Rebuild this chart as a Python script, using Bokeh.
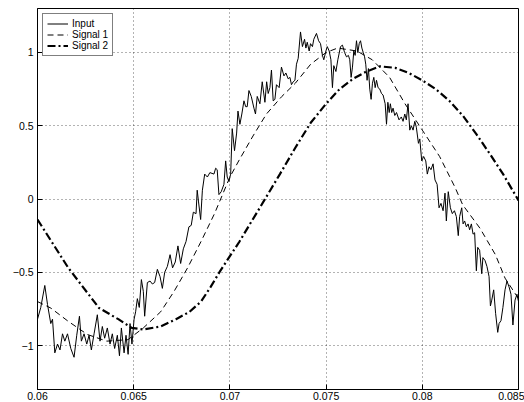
from bokeh.plotting import figure
from bokeh.models import FixedTicker, Range1d, Legend, LegendItem
from bokeh.embed import file_html
from bokeh.resources import INLINE

# ---- data ----
input_t = [
    0.06000, 0.06017, 0.06038, 0.06052, 0.06069, 0.06078, 0.06090, 0.06104, 0.06117, 0.06130,
    0.06142, 0.06156, 0.06173, 0.06190, 0.06204, 0.06218, 0.06228, 0.06242, 0.06256, 0.06268,
    0.06280, 0.06294, 0.06311, 0.06325, 0.06337, 0.06349, 0.06363, 0.06377, 0.06389, 0.06401,
    0.06415, 0.06426, 0.06436, 0.06450, 0.06460, 0.06471, 0.06481, 0.06491, 0.06502, 0.06510,
    0.06519, 0.06529, 0.06540, 0.06550, 0.06557, 0.06571, 0.06585, 0.06597, 0.06609, 0.06623,
    0.06637, 0.06649, 0.06661, 0.06675, 0.06689, 0.06702, 0.06716, 0.06730, 0.06744, 0.06758,
    0.06772, 0.06787, 0.06799, 0.06810, 0.06824, 0.06830, 0.06837, 0.06848, 0.06857, 0.06869,
    0.06883, 0.06896, 0.06917, 0.06926, 0.06934, 0.06943, 0.06955, 0.06969, 0.06978, 0.06986,
    0.06995, 0.07004, 0.07012, 0.07024, 0.07035, 0.07042, 0.07052, 0.07062, 0.07073, 0.07082,
    0.07090, 0.07099, 0.07111, 0.07125, 0.07133, 0.07142, 0.07156, 0.07168, 0.07182, 0.07191,
    0.07199, 0.07208, 0.07216, 0.07225, 0.07234, 0.07242, 0.07256, 0.07268, 0.07281, 0.07291,
    0.07303, 0.07312, 0.07320, 0.07329, 0.07338, 0.07346, 0.07355, 0.07367, 0.07377, 0.07388,
    0.07395, 0.07402, 0.07412, 0.07419, 0.07429, 0.07436, 0.07450, 0.07461, 0.07471, 0.07481,
    0.07488, 0.07499, 0.07506, 0.07516, 0.07525, 0.07533, 0.07540, 0.07551, 0.07561, 0.07575,
    0.07585, 0.07596, 0.07606, 0.07616, 0.07623, 0.07630, 0.07637, 0.07644, 0.07651, 0.07658,
    0.07665, 0.07672, 0.07679, 0.07686, 0.07693, 0.07700, 0.07706, 0.07713, 0.07720, 0.07727,
    0.07734, 0.07741, 0.07748, 0.07755, 0.07762, 0.07770, 0.07779, 0.07788, 0.07796, 0.07807,
    0.07814, 0.07821, 0.07828, 0.07834, 0.07841, 0.07848, 0.07857, 0.07866, 0.07879, 0.07891,
    0.07900, 0.07909, 0.07917, 0.07926, 0.07935, 0.07943, 0.07952, 0.07961, 0.07969, 0.07980,
    0.07987, 0.07997, 0.08007, 0.08018, 0.08026, 0.08035, 0.08045, 0.08056, 0.08066, 0.08077,
    0.08087, 0.08097, 0.08108, 0.08118, 0.08125, 0.08135, 0.08146, 0.08156, 0.08167, 0.08177,
    0.08187, 0.08194, 0.08205, 0.08212, 0.08220, 0.08229, 0.08238, 0.08246, 0.08255, 0.08264,
    0.08272, 0.08281, 0.08288, 0.08298, 0.08309, 0.08315, 0.08326, 0.08336, 0.08347, 0.08354,
    0.08361, 0.08371, 0.08381, 0.08392, 0.08399, 0.08409, 0.08419, 0.08430, 0.08440, 0.08451,
    0.08461, 0.08471, 0.08482, 0.08492, 0.08500,
]
input_v = [
    -0.82, -0.74, -0.59, -0.72, -0.85, -0.82, -1.05, -0.99, -1.03, -0.92,
    -0.97, -0.92, -1.02, -1.08, -0.93, -0.80, -0.97, -0.92, -0.99, -0.93,
    -1.03, -0.92, -0.79, -0.97, -0.87, -0.95, -0.88, -0.99, -0.92, -1.02,
    -0.93, -1.07, -0.88, -1.05, -0.93, -1.06, -0.85, -0.99, -0.82, -0.77,
    -0.68, -0.74, -0.55, -0.63, -0.80, -0.57, -0.56, -0.58, -0.57, -0.48,
    -0.53, -0.61, -0.50, -0.46, -0.38, -0.47, -0.43, -0.32, -0.44, -0.34,
    -0.29, -0.19, -0.18, -0.09, -0.10, 0.06, -0.02, -0.14, 0.06, 0.17,
    0.15, 0.18, 0.17, 0.21, 0.20, 0.03, 0.05, 0.10, 0.26, 0.15,
    0.12, 0.17, 0.48, 0.33, 0.45, 0.60, 0.51, 0.58, 0.67, 0.63,
    0.63, 0.74, 0.70, 0.62, 0.58, 0.70, 0.65, 0.80, 0.66, 0.80,
    0.72, 0.76, 0.88, 0.67, 0.68, 0.78, 0.76, 0.90, 0.84, 0.86,
    0.82, 0.83, 0.78, 0.80, 0.81, 0.92, 0.96, 1.14, 1.04, 1.09,
    1.03, 1.07, 1.01, 1.06, 1.04, 1.09, 1.13, 1.08, 1.06, 0.98,
    0.95, 1.01, 1.04, 1.01, 0.95, 0.76, 0.91, 0.87, 0.95, 1.04,
    1.05, 1.00, 0.97, 0.98, 0.95, 0.83, 0.90, 1.01, 0.98, 1.08,
    1.00, 1.06, 1.08, 1.03, 1.00, 0.97, 0.92, 0.81, 0.89, 0.75,
    0.68, 0.79, 0.83, 0.76, 0.81, 0.76, 0.75, 0.72, 0.71, 0.65,
    0.51, 0.66, 0.59, 0.65, 0.59, 0.62, 0.57, 0.59, 0.54, 0.56,
    0.53, 0.58, 0.54, 0.65, 0.47, 0.50, 0.47, 0.53, 0.49, 0.38,
    0.41, 0.26, 0.29, 0.26, 0.17, 0.22, 0.20, 0.24, 0.13, 0.10,
    -0.06, -0.03, -0.08, 0.04, -0.15, 0.05, -0.06, -0.10, -0.08, -0.12,
    -0.25, -0.12, -0.06, -0.17, -0.15, -0.19, -0.17, -0.21, -0.17, -0.24,
    -0.23, -0.49, -0.33, -0.35, -0.51, -0.40, -0.42, -0.46, -0.53, -0.73,
    -0.69, -0.62, -0.78, -0.91, -0.85, -0.83, -0.74, -0.62, -0.56, -0.60,
    -0.65, -0.86, -0.69, -0.65, -0.70,
]

sig1_t = [0.0600, 0.0607, 0.0616, 0.0626, 0.0636, 0.0647, 0.0655, 0.0664, 0.0671, 0.0678,
          0.0685, 0.0692, 0.0700, 0.0705, 0.0712, 0.0719, 0.0727, 0.0734, 0.0742, 0.0750,
          0.0756, 0.0766, 0.0774, 0.0783, 0.0791, 0.0800, 0.0809, 0.0817, 0.0821, 0.0830,
          0.0838, 0.0843, 0.0850]
sig1_v = [-0.70, -0.745, -0.835, -0.925, -0.97, -0.96, -0.88, -0.77, -0.63, -0.47,
          -0.29, -0.10, 0.15, 0.27, 0.43, 0.58, 0.70, 0.79, 0.92, 1.00,
          1.03, 1.01, 0.95, 0.83, 0.65, 0.47, 0.29, 0.08, -0.04, -0.20,
          -0.38, -0.54, -0.68]

sig2_t = [0.0600, 0.0616, 0.0632, 0.0642, 0.0649, 0.0655, 0.0664, 0.0672, 0.0679, 0.0685,
          0.0690, 0.0695, 0.0700, 0.0705, 0.0710, 0.0716, 0.0721, 0.0726, 0.0734, 0.0742,
          0.0750, 0.0757, 0.0764, 0.0771, 0.0778, 0.0786, 0.0793, 0.0800, 0.0807, 0.0814,
          0.0821, 0.0828, 0.0835, 0.0842, 0.0850]
sig2_v = [-0.14, -0.47, -0.744, -0.82, -0.88, -0.89, -0.87, -0.82, -0.77, -0.70,
          -0.60, -0.49, -0.39, -0.29, -0.18, -0.05, 0.06, 0.17, 0.35, 0.52,
          0.65, 0.75, 0.82, 0.87, 0.905, 0.895, 0.86, 0.81, 0.75, 0.67,
          0.57, 0.445, 0.31, 0.17, -0.01]

x_ticks = [0.06, 0.065, 0.07, 0.075, 0.08, 0.085]
x_labels = ["0.06", "0.065", "0.07", "0.075", "0.08", "0.085"]
y_ticks = [-1, -0.5, 0, 0.5, 1]
y_labels = ["\u22121", "\u22120.5", "0", "0.5", "1"]
series_names = ["Input", "Signal 1", "Signal 2"]

FONT = "Liberation Sans"

p = figure(width=524, height=402, output_backend="svg", toolbar_location=None,
           x_range=Range1d(0.06, 0.085), y_range=Range1d(-1.3, 1.3),
           min_border_left=37, min_border_right=6, min_border_top=8, min_border_bottom=13,
           background_fill_color="white", border_fill_color="white")

p.outline_line_color = "black"
p.outline_line_width = 1
p.outline_line_alpha = 1

for ax, ticks, labels in ((p.xaxis[0], x_ticks, x_labels), (p.yaxis[0], y_ticks, y_labels)):
    ax.ticker = FixedTicker(ticks=ticks)
    ax.major_label_overrides = {t: l for t, l in zip(ticks, labels)}
    ax.major_tick_in = 5
    ax.major_tick_out = 0
    ax.minor_tick_line_color = None
    ax.axis_line_color = "black"
    ax.major_tick_line_color = "black"
    ax.major_label_text_font = FONT
    ax.major_label_text_font_size = "10.5px"
    ax.major_label_text_color = "black"
p.xaxis[0].major_label_standoff = 2
p.yaxis[0].major_label_standoff = 4

for g, ticks in ((p.xgrid[0], x_ticks), (p.ygrid[0], y_ticks)):
    g.ticker = FixedTicker(ticks=ticks)
    g.grid_line_color = "black"
    g.grid_line_alpha = 0.6
    g.grid_line_dash = "1 3"
    g.grid_line_width = 1

r_in = p.line(input_t, input_v, line_color="black", line_width=1)
r_s1 = p.line(sig1_t, sig1_v, line_color="black", line_width=1, line_dash="6 4")
r_s2 = p.line(sig2_t, sig2_v, line_color="black", line_width=2.2, line_dash="8 3 2 3")

legend = Legend(items=[LegendItem(label=series_names[0], renderers=[r_in]),
                       LegendItem(label=series_names[1], renderers=[r_s1]),
                       LegendItem(label=series_names[2], renderers=[r_s2])],
                location="top_left")
legend.margin = 5
legend.padding = 4
legend.spacing = 0
legend.glyph_width = 21
legend.glyph_height = 11
legend.label_height = 11
legend.label_standoff = 4
legend.label_text_font = FONT
legend.label_text_font_size = "10px"
legend.label_text_color = "black"
legend.border_line_color = "black"
legend.border_line_width = 1.3
legend.background_fill_color = "white"
legend.background_fill_alpha = 1
p.add_layout(legend, "center")

open("out.html", "w").write(file_html(p, INLINE))
